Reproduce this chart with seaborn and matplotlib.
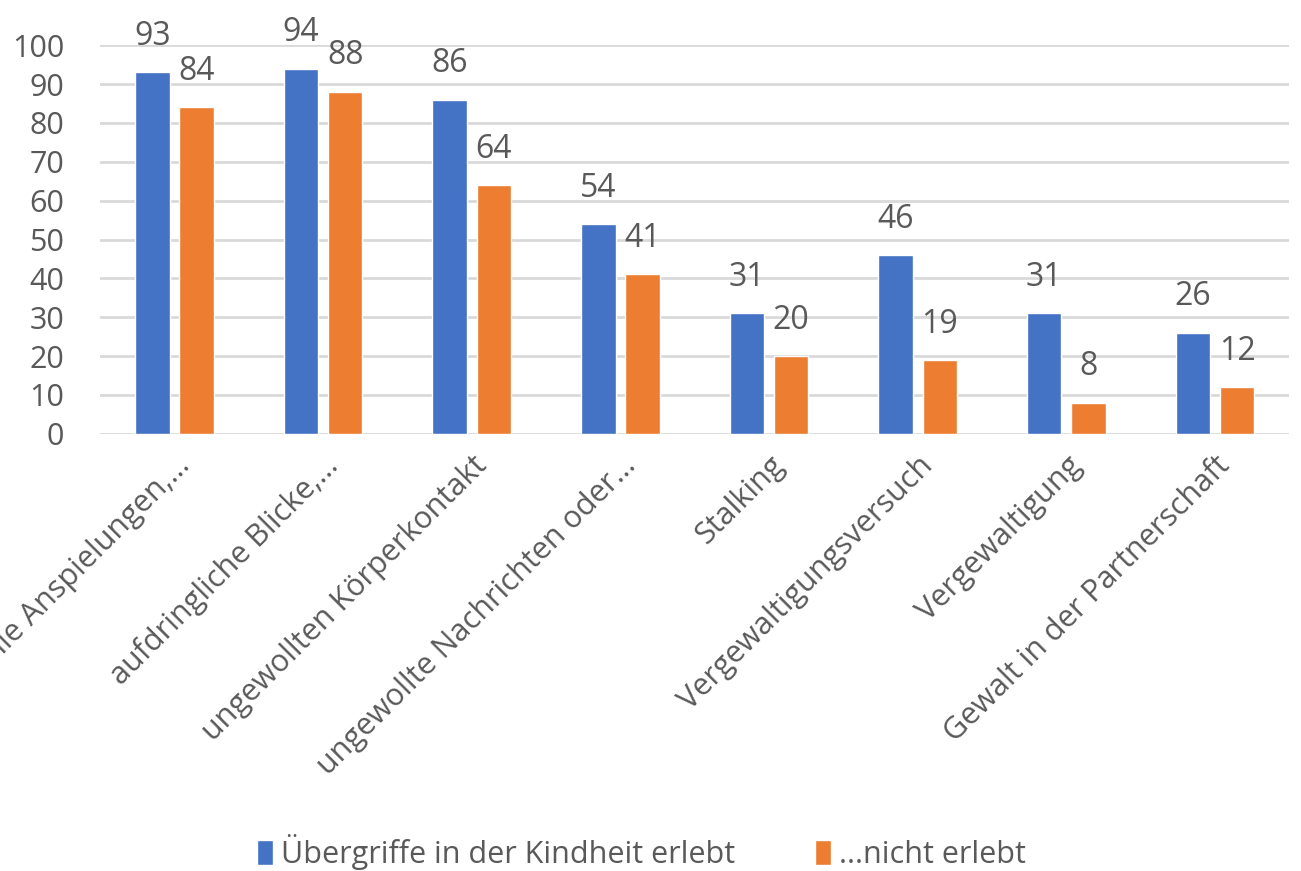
import matplotlib
matplotlib.use("Agg")
import matplotlib.pyplot as plt
import seaborn as sns
import pandas as pd

categories = ["sexuelle Anspielungen,...", "aufdringliche Blicke,...", "ungewollten Körperkontakt",
              "ungewollte Nachrichten oder...", "Stalking", "Vergewaltigungsversuch",
              "Vergewaltigung", "Gewalt in der Partnerschaft"]
series_names = ["Übergriffe in der Kindheit erlebt", "...nicht erlebt"]
erlebt = [93, 94, 86, 54, 31, 46, 31, 26]
nicht_erlebt = [84, 88, 64, 41, 20, 19, 8, 12]
yticks = [0, 10, 20, 30, 40, 50, 60, 70, 80, 90, 100]

df = pd.DataFrame({
    "Kategorie": categories * 2,
    "Serie": [series_names[0]] * len(categories) + [series_names[1]] * len(categories),
    "Wert": erlebt + nicht_erlebt,
})

sns.set_theme(style="white")
plt.rcParams["font.family"] = ["Open Sans", "DejaVu Sans"]
txt = "#595959"

fig = plt.figure(figsize=(13.01, 8.71), dpi=100)
ax = fig.add_axes([0.077, 0.502, 0.914, 0.446])
sns.barplot(data=df, x="Kategorie", y="Wert", hue="Serie", order=categories,
            hue_order=series_names, palette=["#4472C4", "#ED7D31"],
            width=0.594, gap=0.22, saturation=1, ax=ax, legend=True)

ax.set_ylim(0, 100)
ax.set_yticks(yticks)
ax.set_xlim(-0.5, len(categories) - 0.5)
ax.grid(axis="y", color="#d9d9d9", linewidth=2)
ax.set_axisbelow(True)
for s in ["top", "right", "left", "bottom"]:
    ax.spines[s].set_visible(False)
ax.set_xlabel("")
ax.set_ylabel("")
ax.tick_params(axis="y", labelsize=22, colors=txt, length=0, pad=26)
ax.tick_params(axis="x", labelsize=22, colors=txt, length=0, pad=12)
plt.setp(ax.get_xticklabels(), rotation=45, ha="right", rotation_mode="anchor")

for cont in ax.containers:
    ax.bar_label(cont, fmt="%d", padding=14, fontsize=23, color=txt)

leg = ax.legend(loc="upper center", bbox_to_anchor=(0.455, -0.96), ncol=2, frameon=False,
                fontsize=22, handlelength=0.55, handleheight=0.9, handletextpad=0.25,
                columnspacing=2.6)
for t in leg.get_texts():
    t.set_color(txt)

fig.savefig("out.png", dpi=100)
